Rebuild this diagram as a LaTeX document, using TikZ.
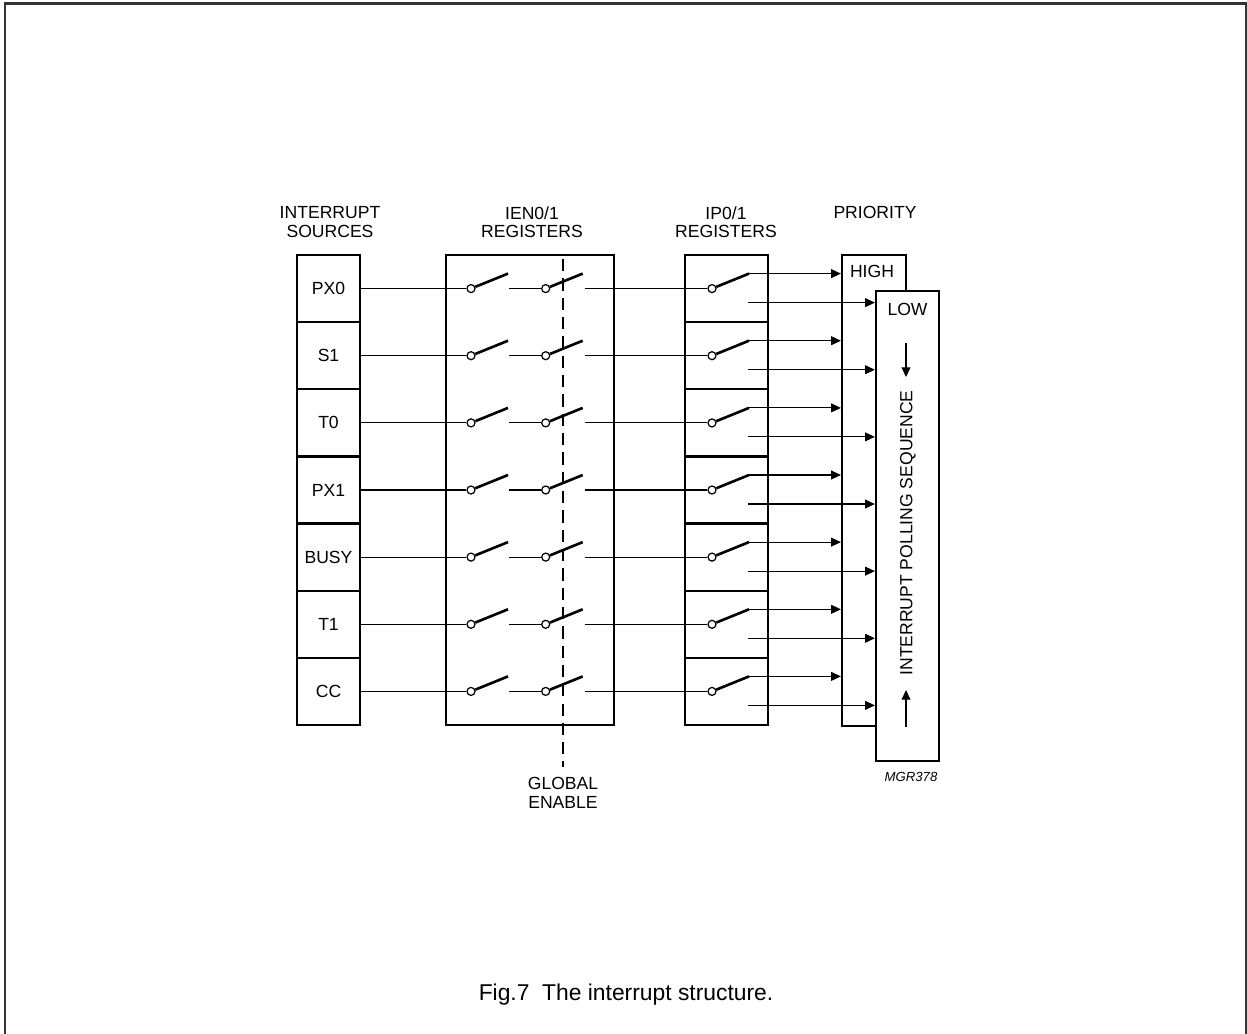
\documentclass[tikz,border=0pt]{standalone}
\usepackage{fontspec}
\setmainfont{Liberation Sans}
\usetikzlibrary{positioning,calc,arrows.meta}

\tikzset{
  lbl/.style={font=\fontsize{10}{10.5}\selectfont, align=center, inner sep=0pt},
  src/.style={draw, line width=1.3pt, minimum width=1.26cm, minimum height=1.343cm, inner sep=0pt, font=\fontsize{10}{12}\selectfont},
  ipcell/.style={draw, line width=1.3pt, minimum width=1.66cm, minimum height=1.343cm, inner sep=0pt},
  pin/.style={circle, draw, fill=white, line width=0.7pt, minimum size=0.16cm, inner sep=0pt},
  blade/.style={line width=1.5pt},
  arr/.style={line width=0.6pt, -{Triangle[length=5.5pt,width=5pt]}},
}

\begin{document}
\begin{tikzpicture}[x=0.02cm, y=-0.02cm, line width=0.6pt]
        \useasboundingbox (0,0) rectangle (1247,1034);
        \draw[line width=1.2pt, black!80] (5,1034) -- (5,3.5) -- (1246,3.5) -- (1246,1034);

        % headings
        \node[lbl] (hsrc) at (330,222) {INTERRUPT\\SOURCES};
        \node[lbl] (hien) at (532,222) {IEN0/1\\REGISTERS};
        \node[lbl] (hip) at (726,222) {IP0/1\\REGISTERS};
        \node[lbl] (hpri) at (875,212) {PRIORITY};

        % register boxes
        \node[draw, line width=1.3pt, minimum width=3.366cm, minimum height=9.4cm, inner sep=0pt] (ien) at (529.85,490) {};
        \node[draw, line width=1.3pt, minimum width=1.274cm, minimum height=9.42cm, inner sep=0pt] (high) at (873.85,490.5) {};
        \node[draw, fill=white, line width=1.3pt, minimum width=1.26cm, minimum height=9.4cm, inner sep=0pt] (low) at (907.5,526) {};
        \node[lbl] (hightxt) at (872,271) {HIGH};
        \node[lbl] (lowtxt) at (907.5,309) {LOW};
        \node[lbl, rotate=90] (poll) at (908,533) {INTERRUPT POLLING SEQUENCE};
        \coordinate (dtop) at (906,343);
        \coordinate (ubot) at (906,727);
        \draw[arr] (dtop) -- ++(0,34);
        \draw[arr] (ubot) -- ++(0,-37);

        % global enable
        \coordinate (gtop) at (563,259);
        \node[lbl] (global) at (563,793) {GLOBAL\\ENABLE};
        \draw[dash pattern=on 7pt off 4pt] (gtop) -- (563,767);

        % PX0
        \node[src] (px0) at (328.5,288.6) {PX0};
        \node[ipcell] (ip0) at (726.5,288.6) {};
        \node[pin] (a0) at (471,288.6) {};
        \node[pin] (b0) at (545.7,288.6) {};
        \node[pin] (c0) at (712,288.6) {};
        \draw (px0) -- (a0);
        \draw[blade] (a0) -- ++(37,-15);
        \draw (a0) ++(38,0) -- (b0);
        \draw[blade] (b0) -- ++(37,-15);
        \draw (b0) ++(39,0) -- (c0);
        \draw[blade] (c0) -- ++(37,-15);
        \draw[arr] (c0) ++(37,-15) -- ($(high.west |- c0)+(0,-15)$);
        \draw[arr] (c0) ++(36,14) -- ($(low.west |- c0)+(0,14)$);

        % S1
        \node[src] (s1) at (328.5,355.7) {S1};
        \node[ipcell] (ip1) at (726.5,355.7) {};
        \node[pin] (a1) at (471,355.7) {};
        \node[pin] (b1) at (545.7,355.7) {};
        \node[pin] (c1) at (712,355.7) {};
        \draw (s1) -- (a1);
        \draw[blade] (a1) -- ++(37,-15);
        \draw (a1) ++(38,0) -- (b1);
        \draw[blade] (b1) -- ++(37,-15);
        \draw (b1) ++(39,0) -- (c1);
        \draw[blade] (c1) -- ++(37,-15);
        \draw[arr] (c1) ++(37,-15) -- ($(high.west |- c1)+(0,-15)$);
        \draw[arr] (c1) ++(36,14) -- ($(low.west |- c1)+(0,14)$);

        % T0
        \node[src] (t0) at (328.5,422.9) {T0};
        \node[ipcell] (ip2) at (726.5,422.9) {};
        \node[pin] (a2) at (471,422.9) {};
        \node[pin] (b2) at (545.7,422.9) {};
        \node[pin] (c2) at (712,422.9) {};
        \draw (t0) -- (a2);
        \draw[blade] (a2) -- ++(37,-15);
        \draw (a2) ++(38,0) -- (b2);
        \draw[blade] (b2) -- ++(37,-15);
        \draw (b2) ++(39,0) -- (c2);
        \draw[blade] (c2) -- ++(37,-15);
        \draw[arr] (c2) ++(37,-15) -- ($(high.west |- c2)+(0,-15)$);
        \draw[arr] (c2) ++(36,14) -- ($(low.west |- c2)+(0,14)$);

        % PX1
        \node[src] (px1) at (328.5,490) {PX1};
        \node[ipcell] (ip3) at (726.5,490) {};
        \node[pin] (a3) at (471,490) {};
        \node[pin] (b3) at (545.7,490) {};
        \node[pin] (c3) at (712,490) {};
        \draw (px1) -- (a3);
        \draw[blade] (a3) -- ++(37,-15);
        \draw (a3) ++(38,0) -- (b3);
        \draw[blade] (b3) -- ++(37,-15);
        \draw (b3) ++(39,0) -- (c3);
        \draw[blade] (c3) -- ++(37,-15);
        \draw[arr] (c3) ++(37,-15) -- ($(high.west |- c3)+(0,-15)$);
        \draw[arr] (c3) ++(36,14) -- ($(low.west |- c3)+(0,14)$);

        % BUSY
        \node[src] (busy) at (328.5,557.1) {BUSY};
        \node[ipcell] (ip4) at (726.5,557.1) {};
        \node[pin] (a4) at (471,557.1) {};
        \node[pin] (b4) at (545.7,557.1) {};
        \node[pin] (c4) at (712,557.1) {};
        \draw (busy) -- (a4);
        \draw[blade] (a4) -- ++(37,-15);
        \draw (a4) ++(38,0) -- (b4);
        \draw[blade] (b4) -- ++(37,-15);
        \draw (b4) ++(39,0) -- (c4);
        \draw[blade] (c4) -- ++(37,-15);
        \draw[arr] (c4) ++(37,-15) -- ($(high.west |- c4)+(0,-15)$);
        \draw[arr] (c4) ++(36,14) -- ($(low.west |- c4)+(0,14)$);

        % T1
        \node[src] (t1) at (328.5,624.3) {T1};
        \node[ipcell] (ip5) at (726.5,624.3) {};
        \node[pin] (a5) at (471,624.3) {};
        \node[pin] (b5) at (545.7,624.3) {};
        \node[pin] (c5) at (712,624.3) {};
        \draw (t1) -- (a5);
        \draw[blade] (a5) -- ++(37,-15);
        \draw (a5) ++(38,0) -- (b5);
        \draw[blade] (b5) -- ++(37,-15);
        \draw (b5) ++(39,0) -- (c5);
        \draw[blade] (c5) -- ++(37,-15);
        \draw[arr] (c5) ++(37,-15) -- ($(high.west |- c5)+(0,-15)$);
        \draw[arr] (c5) ++(36,14) -- ($(low.west |- c5)+(0,14)$);

        % CC
        \node[src] (cc) at (328.5,691.4) {CC};
        \node[ipcell] (ip6) at (726.5,691.4) {};
        \node[pin] (a6) at (471,691.4) {};
        \node[pin] (b6) at (545.7,691.4) {};
        \node[pin] (c6) at (712,691.4) {};
        \draw (cc) -- (a6);
        \draw[blade] (a6) -- ++(37,-15);
        \draw (a6) ++(38,0) -- (b6);
        \draw[blade] (b6) -- ++(37,-15);
        \draw (b6) ++(39,0) -- (c6);
        \draw[blade] (c6) -- ++(37,-15);
        \draw[arr] (c6) ++(37,-15) -- ($(high.west |- c6)+(0,-15)$);
        \draw[arr] (c6) ++(36,14) -- ($(low.west |- c6)+(0,14)$);

        \node[font=\fontsize{7.5}{9}\selectfont\itshape, inner sep=0pt] (mgr) at (911,777) {MGR378};
        \node[font=\fontsize{13}{15}\selectfont, inner sep=0pt] (cap) at (626,995) {Fig.7\ \ The interrupt structure.};
    \end{tikzpicture}
\end{document}
